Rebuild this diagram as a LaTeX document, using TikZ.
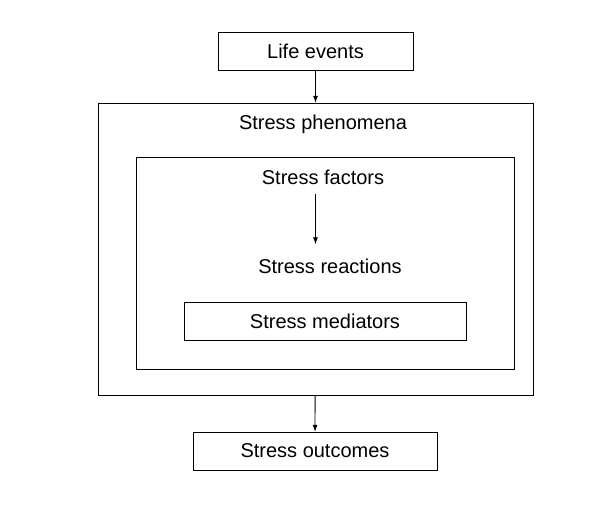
\documentclass[tikz,border=0pt]{standalone}
\usepackage{fontspec}
\setmainfont{Liberation Sans}
\usetikzlibrary{positioning,arrows.meta}
\tikzset{
boxnode/.style={rectangle, draw=black, thin, inner sep=0pt},
labelnode/.style={inner sep=0pt},
>={Latex[width=5pt,length=7pt]},
}
\begin{document}
\begin{tikzpicture}[x=1pt, y=-1pt, font=\fontsize{20}{24}\selectfont, line width=0.8pt]
\useasboundingbox (0,0) rectangle (610,514);

%Boxes
\node[boxnode, minimum width=195pt, minimum height=38pt] (life) at (315.5,51) {Life events};
\node[boxnode, minimum width=435pt, minimum height=292pt] (phen) at (315.5,249) {};
\node[boxnode, minimum width=378pt, minimum height=212pt] (inner) at (325,263) {};
\node[boxnode, minimum width=282pt, minimum height=38pt] (med) at (325,321) {Stress mediators};
\node[boxnode, minimum width=244pt, minimum height=38pt] (out) at (315,451) {Stress outcomes};

%Labels
\node[labelnode] (phenlabel) at (323,124) {Stress phenomena};
\node[labelnode] (factors) at (323,177) {Stress factors};
\node[labelnode] (reactions) at (330,266) {Stress reactions};

%Arrows
\draw[->] (life) -- (phen);
\draw[->, shorten <=9pt, shorten >=14pt] (factors.south -| life) -- (reactions.north -| life);
\draw[->] (phen) -- (out);

\end{tikzpicture}
\end{document}
